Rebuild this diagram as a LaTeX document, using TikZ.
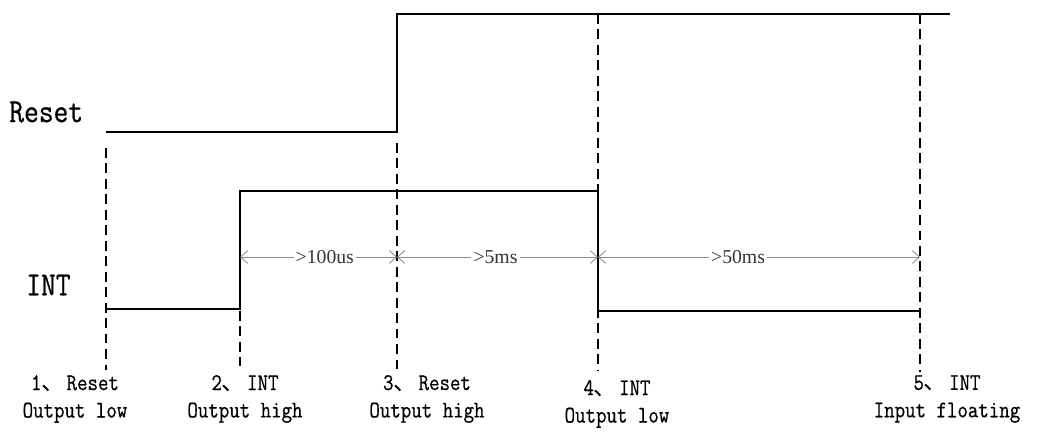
\documentclass[tikz,border=0pt]{standalone}
\usepackage{fontspec}
\usepackage{tikz}
\usetikzlibrary{arrows.meta}
\newfontfamily\sigfont[FakeStretch=0.85, FakeBold=0.6]{Latin Modern Mono}
\newfontfamily\timefont{Liberation Serif}
\newfontfamily\cjkfont{Noto Sans CJK SC}
\NewDocumentCommand{\dunhao}{}{{\cjkfont 、}\hspace{0.05em}}

\begin{document}
\begin{tikzpicture}[
x=0.025cm, y=-0.025cm,
signalline/.style={line width=2.1pt, line join=miter},
markerline/.style={line width=1.3pt, dash pattern=on 7pt off 4pt},
spanline/.style={black!45, line width=0.6pt, {Straight Barb[length=5pt,width=9pt]}-{Straight Barb[length=5pt,width=9pt]}},
spanlabel/.style={fill=white, inner sep=1.5pt, text=black!80, font=\timefont\fontsize{14}{16}\selectfont},
signalname/.style={anchor=west, inner sep=0pt, font=\sigfont\fontsize{24}{28}\selectfont},
eventlabel/.style={align=center, inner sep=0pt, font=\sigfont\fontsize{17}{19.5}\selectfont},
]
\useasboundingbox (0,0) rectangle (1041,435);

%Coordinates
\coordinate (t1) at (106,257);
\coordinate (t2) at (240,257);
\coordinate (t3) at (397,257);
\coordinate (t4) at (598,257);
\coordinate (t5) at (920,257);

%Signals
\node[signalname]	(reset)		at (9,112)		{Reset};
\node[signalname]	(int)		at (26,285)		{INT};
\draw[signalline] (106,132) -- (397,132) -- (397,14) -- (950,14);
\draw[signalline] (106,309) -- (240,309) -- (240,191) -- (598,191) -- (598,311) -- (920,311);

%Markers
\draw[markerline] (106,148) -- (106,370);
\draw[markerline] (240,311) -- (240,366);
\draw[markerline] (397,143) -- (397,369);
\draw[markerline] (598,14) -- (598,370);
\draw[markerline] (920,14) -- (920,372);

%Spans
\draw[spanline] (t2) -- node[spanlabel, pos=0.54] (span1) {>100us} (t3);
\draw[spanline] (t3) -- node[spanlabel, pos=0.49] (span2) {>5ms} (t4);
\draw[spanline] (t4) -- node[spanlabel, pos=0.435] (span3) {>50ms} (t5);

%Events
\node[eventlabel]	(ev1)	at (75,399)		{1\dunhao Reset\\Output low};
\node[eventlabel]	(ev2)	at (245,399)	{2\dunhao INT\\Output high};
\node[eventlabel]	(ev3)	at (427,399)	{3\dunhao Reset\\Output high};
\node[eventlabel]	(ev4)	at (617,404)	{4\dunhao INT\\Output low};
\node[eventlabel]	(ev5)	at (947,399)	{5\dunhao INT\\Input floating};
\end{tikzpicture}
\end{document}
